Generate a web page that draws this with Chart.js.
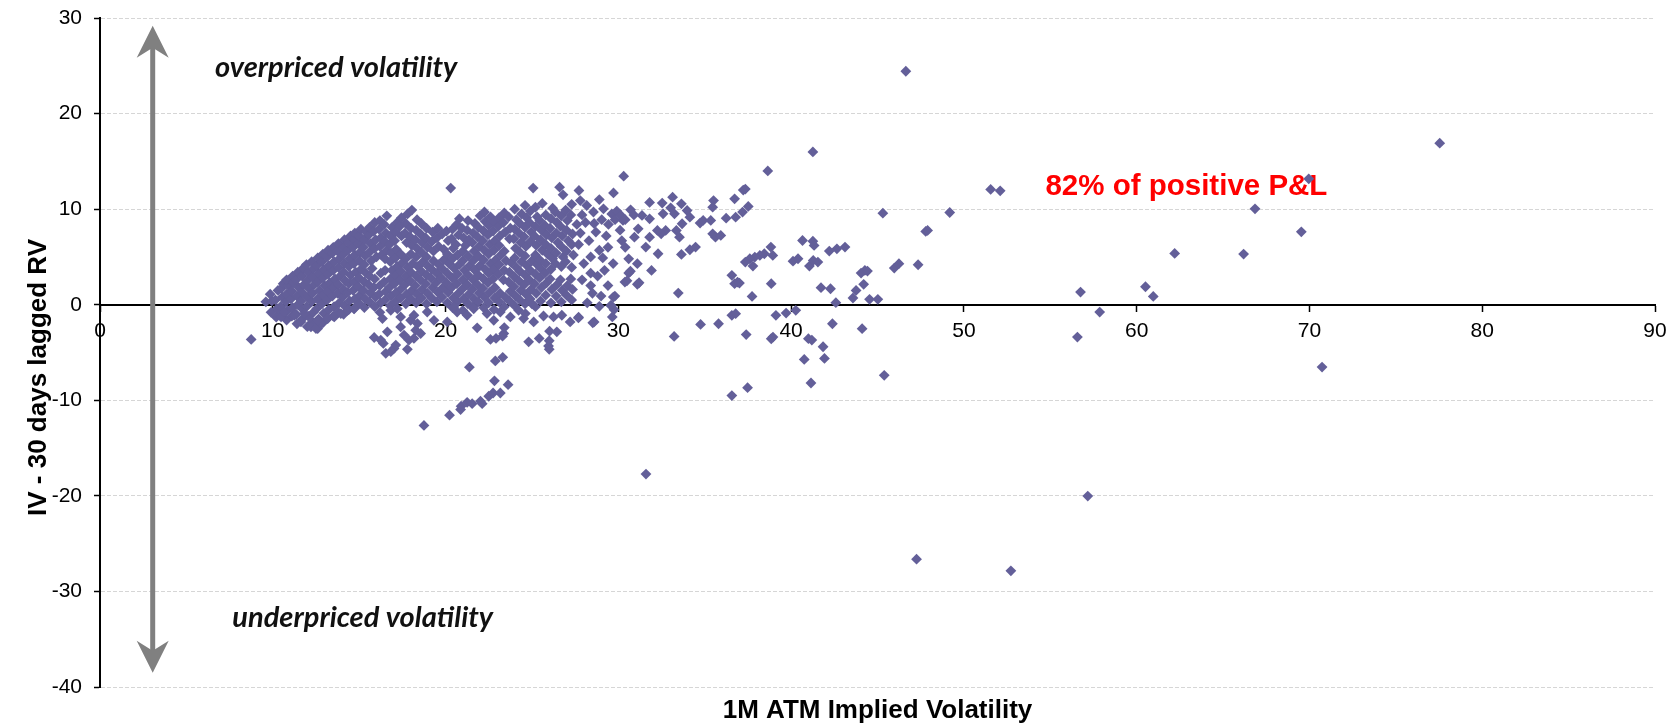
<!DOCTYPE html>
<html>
<head>
<meta charset="utf-8">
<script src="https://cdn.jsdelivr.net/npm/chart.js@4.4.1/dist/chart.umd.min.js"></script>
<style>
  html, body { margin: 0; padding: 0; background: #fff; }
  #wrap { width: 1680px; height: 723px; position: relative; }
</style>
</head>
<body>
<div id="wrap"><canvas id="ivChart"></canvas></div>
<script>
// [1M ATM implied vol, IV - 30d lagged RV], grouped by area

// dense band, IV 9.5 - 16
const leftCluster = [
  [9.6,0.3],[9.9,-0.8],[9.95,0.4],[9.85,1.1],
  [10.2,-1.3],[10.25,-0.4],[10.15,0.5],[10.3,1.5],
  [10.5,-1.0],[10.45,-0.2],[10.55,0.8],[10.5,1.7],[10.6,2.2],
  [10.8,-1.6],[10.85,-0.6],[10.75,0.3],[10.8,1.1],[10.9,2.0],[10.8,2.6],
  [11.1,-1.2],[11.15,-0.3],[11.05,0.6],[11.1,1.4],[11.2,2.3],[11.15,3.0],
  [11.4,-2.0],[11.35,-1.0],[11.45,0.0],[11.4,0.9],[11.5,1.8],[11.35,2.6],[11.45,3.4],
  [11.7,-1.5],[11.75,-0.5],[11.65,0.4],[11.7,1.3],[11.8,2.1],[11.7,3.0],[11.75,3.8],
  [12.0,-2.3],[12.05,-1.2],[11.95,-0.2],[12.0,0.8],[12.1,1.7],[12.0,2.5],[12.05,3.4],[11.95,4.2],
  [12.3,-1.8],[12.35,-0.8],[12.25,0.3],[12.3,1.2],[12.4,2.1],[12.3,2.9],[12.35,3.8],[12.25,4.5],
  [12.6,-2.5],[12.65,-1.5],[12.55,-0.4],[12.6,0.6],[12.7,1.5],[12.6,2.4],[12.65,3.3],[12.55,4.1],[12.6,4.9],
  [12.9,-1.9],[12.95,-0.9],[12.85,0.1],[12.9,1.0],[13.0,2.0],[12.9,2.8],[12.95,3.7],[12.85,4.5],[12.9,5.3],
  [13.2,-1.4],[13.25,-0.5],[13.15,0.5],[13.2,1.4],[13.3,2.3],[13.2,3.2],[13.25,4.1],[13.15,5.0],[13.2,5.7],
  [13.5,-1.2],[13.55,-0.2],[13.45,0.9],[13.5,1.8],[13.6,2.7],[13.5,3.6],[13.55,4.5],[13.45,5.4],[13.5,6.0],
  [13.8,-0.8],[13.85,0.2],[13.75,1.2],[13.8,2.1],[13.9,3.0],[13.8,3.9],[13.85,4.8],[13.75,5.6],[13.8,6.4],
  [14.1,-1.0],[14.15,-0.1],[14.05,0.8],[14.1,1.6],[14.2,2.5],[14.1,3.4],[14.15,4.3],[14.05,5.2],[14.1,6.0],[14.15,6.8],
  [14.4,-0.5],[14.45,0.4],[14.35,1.3],[14.4,2.2],[14.5,3.1],[14.4,4.0],[14.45,4.8],[14.35,5.7],[14.4,6.5],[14.5,7.2],
  [14.7,-0.4],[14.75,0.6],[14.65,1.5],[14.7,2.4],[14.8,3.4],[14.7,4.3],[14.75,5.2],[14.65,6.0],[14.7,6.9],[14.75,7.5],
  [15.0,0.1],[15.05,1.0],[14.95,1.9],[15.0,2.8],[15.1,3.7],[15.0,4.6],[15.05,5.5],[14.95,6.4],[15.0,7.2],[15.1,7.9],
  [15.3,-0.3],[15.35,0.6],[15.25,1.5],[15.3,2.4],[15.4,3.3],[15.3,4.2],[15.35,5.1],[15.25,6.0],[15.3,6.8],[15.4,7.6],
  [15.6,0.3],[15.65,1.2],[15.55,2.1],[15.6,3.0],[15.75,3.8],[15.7,4.6],[15.6,5.5],[15.65,6.4],[15.55,7.3],[15.6,8.1],
  [15.9,-0.2],[15.95,0.8],[15.85,1.8],[15.9,2.7],[16.0,5.0],[15.9,5.9],[15.95,6.8],[15.85,7.7],[15.9,8.6]
];

// IV 16 - 20
const midCluster = [
  [16.2,-0.8],[16.25,0.2],[16.15,1.1],[16.2,2.0],[16.25,3.3],[16.3,5.2],[16.2,6.1],[16.25,7.0],[16.15,7.9],[16.2,8.8],
  [16.5,0.5],[16.55,1.4],[16.45,2.4],[16.5,3.6],[16.5,4.8],[16.6,5.7],[16.5,6.6],[16.55,7.5],[16.45,8.4],[16.6,9.3],
  [16.8,-0.1],[16.85,0.9],[16.75,1.8],[16.8,2.7],[16.9,3.6],[16.8,4.5],[16.85,5.4],[16.75,6.3],[16.8,7.2],[16.9,8.1],
  [17.1,0.3],[17.15,1.3],[17.05,2.2],[17.1,3.1],[17.2,4.0],[17.1,4.9],[17.15,5.8],[17.05,6.7],[17.1,7.6],[17.2,8.6],
  [17.4,0.7],[17.45,1.7],[17.35,2.6],[17.4,3.5],[17.5,4.4],[17.4,5.3],[17.45,7.2],[17.35,8.2],[17.45,9.1],
  [17.7,0.1],[17.75,1.1],[17.65,2.1],[17.7,3.0],[17.8,3.9],[17.7,4.8],[17.75,6.5],[17.65,7.5],[17.7,8.5],[17.8,9.5],
  [18.0,0.6],[18.05,1.5],[17.95,2.5],[18.0,3.4],[18.1,4.3],[18.0,5.3],[18.05,6.2],[17.95,7.1],[18.0,8.0],[18.05,9.9],
  [18.3,0.2],[18.35,1.1],[18.25,2.0],[18.3,3.0],[18.4,4.0],[18.3,5.0],[18.35,5.9],[18.25,6.8],[18.3,7.8],[18.35,8.9],
  [18.6,0.7],[18.65,1.6],[18.55,2.6],[18.6,3.5],[18.7,4.5],[18.6,5.5],[18.65,6.5],[18.55,7.4],[18.6,8.5],
  [18.9,0.1],[18.95,1.2],[18.85,2.2],[18.9,3.1],[19.0,4.0],[18.9,5.0],[18.95,6.0],[18.85,7.0],[18.9,8.0],
  [19.2,0.7],[19.25,1.8],[19.15,2.8],[19.2,3.7],[19.3,4.6],[19.3,5.6],[19.2,6.6],[19.25,7.6],
  [19.5,0.3],[19.55,1.3],[19.45,2.3],[19.5,3.3],[19.6,4.2],[19.6,6.1],[19.5,7.0],[19.55,8.0],
  [19.8,0.8],[19.85,1.8],[19.75,2.8],[19.8,3.8],[19.9,4.7],[19.9,5.8],[19.8,7.4],
  [20.1,0.2],[20.15,1.3],[20.05,2.3],[20.1,3.3],[20.2,4.3],[20.1,5.3],[20.15,6.7],[20.05,7.7]
];

// IV 20 - 27.5
const rightCluster = [
  [20.4,-0.3],[20.45,0.7],[20.35,1.8],[20.4,2.8],[20.5,3.8],[20.4,4.8],[20.45,5.9],[20.35,6.9],[20.4,7.9],
  [20.7,0.3],[20.75,1.2],[20.65,2.2],[20.7,3.2],[20.8,4.2],[20.7,5.2],[20.6,6.3],[20.75,7.3],[20.65,8.4],[20.8,9.0],
  [21.0,-0.6],[21.05,0.6],[20.95,1.6],[21.0,2.6],[21.1,3.6],[21.0,4.6],[21.0,5.6],[21.15,6.2],[21.05,7.0],[20.95,8.0],
  [21.3,0.1],[21.35,1.1],[21.25,2.1],[21.3,3.1],[21.4,4.1],[21.3,5.1],[21.35,6.8],[21.25,7.8],[21.3,8.8],
  [21.6,-0.2],[21.65,0.6],[21.55,1.6],[21.6,2.6],[21.7,3.6],[21.6,4.6],[21.65,5.6],[21.55,6.5],[21.6,7.5],[21.7,8.5],
  [21.9,0.3],[21.95,1.2],[21.85,2.1],[21.9,3.1],[22.0,4.1],[21.9,5.1],[21.95,6.1],[21.85,7.1],[21.9,8.1],[22.0,9.3],
  [22.2,-0.3],[22.25,0.8],[22.15,1.7],[22.2,2.7],[22.3,3.7],[22.2,4.7],[22.25,5.7],[22.15,6.7],[22.2,7.7],[22.3,8.7],[22.25,9.7],
  [22.5,0.2],[22.55,1.3],[22.45,2.3],[22.5,3.3],[22.6,4.3],[22.5,5.3],[22.55,6.3],[22.45,7.3],[22.5,8.3],[22.6,9.2],
  [22.8,-0.5],[22.85,0.7],[22.85,1.8],[22.75,2.7],[22.8,3.7],[22.9,4.7],[22.8,5.7],[22.85,6.7],[22.75,7.7],[22.8,8.7],
  [23.1,0.3],[23.15,1.2],[23.05,3.2],[23.1,4.2],[23.2,5.2],[23.1,6.2],[23.15,7.2],[23.05,8.2],[23.1,9.1],
  [23.4,-0.2],[23.45,0.8],[23.35,2.6],[23.4,3.6],[23.5,4.6],[23.4,5.6],[23.45,7.6],[23.35,8.6],[23.4,9.6],
  [23.7,0.4],[23.75,1.4],[23.65,2.4],[23.7,3.4],[23.8,4.4],[23.7,6.9],[23.75,8.0],[23.65,9.2],
  [24.0,-0.1],[24.05,0.9],[23.95,1.9],[24.0,2.9],[24.1,3.9],[24.0,4.9],[24.05,5.9],[23.95,6.9],[24.0,7.9],[24.1,8.9],[24.0,10.0],
  [24.3,0.5],[24.35,1.5],[24.25,2.5],[24.3,3.5],[24.4,4.5],[24.3,5.5],[24.35,6.5],[24.25,7.5],[24.3,8.5],[24.4,9.5],
  [24.6,0.1],[24.65,1.1],[24.55,2.1],[24.6,3.1],[24.7,4.1],[24.6,5.1],[24.65,6.1],[24.55,7.1],[24.6,8.1],[24.7,9.1],[24.6,10.4],
  [24.9,0.6],[24.95,1.6],[24.85,2.6],[24.9,3.6],[25.0,4.6],[24.9,6.6],[24.95,7.6],[24.85,8.6],[24.9,9.8],[25.07,12.2],
  [25.2,-0.2],[25.25,1.2],[25.15,2.2],[25.2,3.2],[25.3,4.2],[25.2,5.2],[25.25,6.2],[25.15,7.2],[25.2,8.2],[25.3,9.2],[25.2,10.2],
  [25.5,0.4],[25.55,1.8],[25.45,2.8],[25.5,3.8],[25.45,4.7],[25.6,5.7],[25.5,6.8],[25.55,7.8],[25.45,8.8],[25.6,10.6],
  [25.8,1.0],[25.85,2.3],[25.75,3.3],[25.8,4.3],[25.9,5.3],[25.8,6.3],[25.85,7.3],[25.75,8.3],[25.8,9.4],
  [26.1,0.2],[26.15,1.6],[26.05,2.7],[26.1,3.7],[26.2,4.8],[26.1,5.9],[26.15,7.0],[26.05,8.0],[26.1,9.0],[26.2,10.1],
  [26.4,0.9],[26.45,2.1],[26.35,4.3],[26.4,5.4],[26.5,6.5],[26.4,7.5],[26.45,8.6],[26.35,9.7],[26.8,11.5],
  [26.7,0.3],[26.75,1.5],[26.65,2.6],[26.7,4.0],[26.8,5.0],[26.7,6.1],[26.75,7.2],[26.65,8.2],[26.7,9.3],[26.6,12.3],
  [27.0,1.0],[27.05,2.0],[26.95,4.5],[27.0,5.6],[27.1,6.7],[27.0,7.8],[27.05,8.8],[26.95,9.9],
  [27.3,0.5],[27.35,1.6],[27.25,2.7],[27.3,3.9],[27.4,5.2],[27.3,6.3],[27.35,7.4],[27.25,9.4],[27.3,10.5]
];

// IV 27.5 - 38, thinning out
const upperTail = [
  [28.17,10.38],[28.56,9.7],[29.14,10.03],[29.62,9.5],[29.91,9.8],[28.1,8.6],[29.04,8.9],[29.43,8.4],[29.81,8.9],
  [28.3,6.7],[28.4,5.0],[28.9,5.7],[29.4,6.0],[29.7,4.3],[29.2,3.6],[28.4,3.3],[27.9,2.6],[28.4,2.0],[29.4,2.0],
  [29.8,0.9],[29.0,0.9],[28.2,0.2],[29.6,-0.1],[27.72,11.95],[29.72,11.7],[27.8,10.9],[27.8,7.5],[28.0,4.3],
  [28.7,7.6],[28.8,3.0],[29.3,7.2],[27.9,9.4],[28.5,1.2],[29.1,4.9],[27.7,6.3],[28.9,11.0],[27.6,8.4],[28.6,8.5],
  [30.31,13.45],[33.14,11.25],[32.54,10.63],[31.81,10.7],[33.65,10.56],[33.98,9.86],[34.14,9.16],[32.59,9.51],
  [33.03,10.14],[33.25,9.51],[33.69,8.47],[33.36,7.77],[33.54,7.07],[32.74,7.77],[32.48,7.42],[32.26,7.77],
  [31.81,7.07],[31.59,6.03],[32.3,5.33],[31.92,3.59],[31.1,4.29],[31.1,2.13],[30.6,3.31],[30.38,2.37],
  [31.37,9.34],[31.81,8.99],[31.15,7.94],[30.93,7.07],[30.71,9.93],[30.15,9.34],[30.27,8.82],[33.47,1.22],
  [33.65,5.26],[34.14,5.75],[34.47,6.03],[34.73,8.54],[34.91,8.82],[35.35,8.82],[35.51,10.9],[35.46,10.21],
  [35.46,7.42],[35.62,7.07],[35.93,7.25],[36.24,9.06],[36.73,11.08],[36.79,9.16],[37.19,9.69],[37.52,10.28],
  [37.23,12.0],[37.35,12.1],[36.57,3.07],[36.9,2.37],[36.73,2.2],[37.01,2.26],[29.71,0.8],[30.2,6.7],
  [30.4,6.0],[30.6,4.8],[30.7,3.5],[31.2,2.3],[30.5,2.5],[30.1,7.8],[30.9,9.4],[30.4,8.9]
];

// below the zero line, incl. the diagonal streak down to -12.6
const lowerTail = [
  [8.75,-3.63],[10.48,-1.28],[10.67,-0.76],[11.25,-1.1],[11.63,-1.8],[11.83,-0.93],[12.21,-2.32],[12.5,-2.49],
  [12.79,-1.97],[13.17,-1.45],[13.56,-1.28],[13.94,-0.93],[14.33,-0.59],[14.71,-0.42],[12.6,-1.63],
  [15.87,-3.43],[16.25,-3.7],[16.4,-4.05],[16.54,-5.09],[16.83,-4.91],[17.02,-4.57],[16.63,-2.84],[16.35,-1.45],
  [16.83,-0.59],[17.21,-0.42],[17.4,-2.32],[17.79,-4.67],[18.17,-3.53],[17.88,-3.7],[17.6,-3.18],[18.27,-2.66],
  [18.56,-3.01],[18.37,-1.97],[17.98,-1.63],[17.4,-1.28],[17.12,-4.22],
  [19.33,-1.63],[20.1,-1.8],[20.67,-0.76],[21.25,-1.1],[22.4,-0.93],[22.79,-1.63],[23.17,-0.76],[23.75,-1.28],
  [24.23,-0.59],[24.52,-1.45],[18.17,-1.1],[18.94,-0.76],[20.48,-0.24],[21.63,-0.42],
  [18.75,-12.63],[20.23,-11.56],[20.87,-10.97],[20.9,-10.62],[21.25,-10.21],[21.54,-10.35],[22.02,-10.1],
  [22.12,-10.35],[22.5,-9.58],[22.75,-9.24],[23.17,-9.24],[22.83,-7.96],[23.62,-8.37],[21.38,-6.54],
  [22.88,-5.88],[23.31,-5.5],[22.6,-3.63],[22.92,-3.53],[23.37,-3.01],[23.4,-2.39],[23.3,-3.29],[21.83,-2.42],
  [26.0,-4.67],[25.96,-4.33],[26.0,-3.77],[24.81,-3.88],[25.42,-3.53],[26.02,-2.77],[26.44,-2.84],
  [27.21,-1.8],[27.69,-1.38],[28.52,-1.9],[28.9,-0.17],[29.65,-1.28],[29.75,-0.52],[26.73,-1.1],[25.1,-1.8],
  [25.67,-1.18],[26.25,-1.28],[24.62,-0.93],[25.0,0.1],[28.6,-1.8],[27.7,-1.3],[29.56,-0.07],
  [33.23,-3.32],[34.76,-2.06],[35.8,-1.99],[36.57,-1.11],[36.79,-0.94],[31.6,-17.72]
];

// scattered points at higher implied vol
const sparsePts = [
  [20.3,12.2],[38.65,14.0],[41.26,15.99],[46.64,24.43],[51.55,12.06],[52.1,11.92],[45.31,9.58],[49.18,9.65],
  [47.79,7.67],[47.9,7.77],[47.35,4.18],[45.97,3.83],[46.24,4.29],[44.05,3.31],[44.27,3.59],[44.42,3.52],
  [44.2,2.13],[43.76,1.5],[43.58,0.7],[44.54,0.56],[45.02,0.56],[42.59,0.21],[43.12,6.03],[42.65,5.85],
  [42.21,5.61],[41.73,1.78],[42.28,1.67],[40.66,6.72],[41.26,6.65],[41.33,6.2],[41.06,4.04],[41.55,4.46],
  [41.28,4.63],[40.11,4.56],[40.4,4.81],[40.27,-0.59],[39.71,-0.87],[39.12,-1.11],[42.39,-1.99],[44.11,-2.51],
  [38.85,2.2],[38.83,6.03],[38.94,5.16],[38.45,5.33],[38.19,5.16],[37.9,4.98],[37.61,4.81],[37.35,4.46],
  [37.79,4.04],[37.74,0.87],[37.4,-3.12],[38.85,-3.56],[38.95,-3.39],[41.0,-3.55],[41.2,-3.7],[41.85,-4.4],
  [40.76,-5.72],[41.93,-5.62],[41.15,-8.19],[36.57,-9.51],[37.48,-8.68],[45.39,-7.39],[47.26,-26.63],
  [52.72,-27.84],[57.17,-20.02],[56.57,-3.39],[56.75,1.32],[57.86,-0.77],[60.51,1.88],[60.96,0.87],
  [62.2,5.37],[66.19,5.3],[66.85,10.03],[69.53,7.63],[69.96,13.17],[77.54,16.9],[70.73,-6.52]
];

const xTicks = [0, 90, 10];     // min, max, step
const yTicks = [-40, 30, 10];

// annotation anchors, in data units
const arrowX = 3.05, arrowTop = 29.2, arrowBottom = -38.5;
const notes = [
  { text: 'overpriced volatility', x: 6.66, y: 23.87, font: 'italic bold 29px Lato', color: '#111' },
  { text: 'underpriced volatility', x: 7.66, y: -33.7, font: 'italic bold 29px Lato', color: '#111' },
  { text: '82% of positive P&L', x: 54.72, y: 11.5, font: 'bold 29.5px "Liberation Sans", Arial, sans-serif', color: '#ff0000' }
];
const xTitle = '1M ATM Implied Volatility';
const yTitle = 'IV - 30 days lagged RV';

const allPts = [].concat(leftCluster, midCluster, rightCluster, upperTail, lowerTail, sparsePts)
  .map(([x, y]) => ({ x, y }));

const TITLE_FONT = 'bold 26px "Liberation Sans", Arial, sans-serif';

const annotate = {
  id: 'annotate',
  beforeDatasetsDraw(chart) {
    const { ctx, scales: { x, y } } = chart;
    const ca = chart.chartArea;
    ctx.save();

    // double headed arrow
    const ax = x.getPixelForValue(arrowX);
    const top = y.getPixelForValue(arrowTop);
    const bot = y.getPixelForValue(arrowBottom);
    ctx.strokeStyle = '#808080';
    ctx.fillStyle = '#808080';
    ctx.lineWidth = 5;
    ctx.beginPath();
    ctx.moveTo(ax, top + 20);
    ctx.lineTo(ax, bot - 20);
    ctx.stroke();
    [[top, 1], [bot, -1]].forEach(([tip, dir]) => {
      ctx.beginPath();
      ctx.moveTo(ax, tip);
      ctx.lineTo(ax + 16, tip + dir * 32);
      ctx.lineTo(ax, tip + dir * 22);
      ctx.lineTo(ax - 16, tip + dir * 32);
      ctx.closePath();
      ctx.fill();
    });

    // text notes
    ctx.textAlign = 'left';
    ctx.textBaseline = 'alphabetic';
    notes.forEach(n => {
      ctx.font = n.font;
      ctx.fillStyle = n.color;
      ctx.fillText(n.text, x.getPixelForValue(n.x), y.getPixelForValue(n.y));
    });

    // axis titles: x axis crosses at y = 0, so its title goes under the plot
    ctx.font = TITLE_FONT;
    ctx.fillStyle = '#000';
    ctx.textAlign = 'center';
    ctx.textBaseline = 'middle';
    ctx.fillText(xTitle, (ca.left + ca.right) / 2, ca.bottom + 24);

    // y title sits a bit below the middle of the plot, as in the original
    ctx.translate(39, (ca.top + ca.bottom) / 2 + 25);
    ctx.rotate(-Math.PI / 2);
    ctx.fillText(yTitle, 0, 0);
    ctx.restore();
  }
};

new Chart(document.getElementById('ivChart'), {
  type: 'scatter',
  data: {
    datasets: [{
      data: allPts,
      pointStyle: 'rectRot',
      pointRadius: 5.4,
      pointBorderWidth: 0,
      backgroundColor: 'rgb(99,95,153)',
      borderColor: 'rgb(99,95,153)'
    }]
  },
  options: {
    responsive: true,
    maintainAspectRatio: false,
    animation: false,
    layout: { padding: { top: 18, right: 25, bottom: 36, left: 0 } },
    plugins: {
      legend: { display: false },
      tooltip: { enabled: false }
    },
    scales: {
      x: {
        type: 'linear',
        position: { y: 0 },
        min: xTicks[0], max: xTicks[1],
        afterFit: s => { s.paddingLeft = 0; s.paddingRight = 0; },
        ticks: {
          stepSize: xTicks[2],
          color: '#000',
          padding: 8,
          maxRotation: 0,
          font: { family: '"Liberation Sans", Arial, sans-serif', size: 21 }
        },
        grid: { drawOnChartArea: false, drawTicks: true, tickLength: 6, color: '#000', tickWidth: 1.5 },
        border: { display: true, color: '#000', width: 2 }
      },
      y: {
        min: yTicks[0], max: yTicks[1],
        afterFit: s => { s.width = 100; s.paddingTop = 0; s.paddingBottom = 0; },
        ticks: {
          stepSize: yTicks[2],
          color: '#000',
          padding: 12,
          font: { family: '"Liberation Sans", Arial, sans-serif', size: 21 }
        },
        grid: { color: '#d6d6d6', lineWidth: 1, tickColor: '#000', tickLength: 6, tickWidth: 1.5, tickBorderDash: [] },
        border: { display: true, color: '#000', width: 2, dash: [4, 2] }
      }
    }
  },
  plugins: [annotate]
});
</script>
</body>
</html>
